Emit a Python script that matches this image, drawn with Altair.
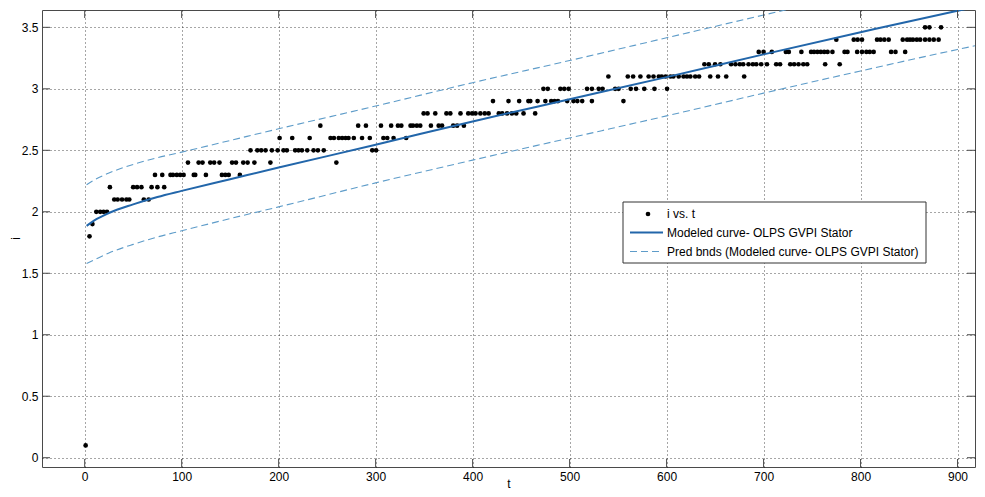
import altair as alt
import pandas as pd

# ---------------- data ----------------
t_ticks = [0, 100, 200, 300, 400, 500, 600, 700, 800, 900]
i_ticks = [0, 0.5, 1, 1.5, 2, 2.5, 3, 3.5]

# observed points, grouped by current level i
lvl_0_1 = [1]
lvl_1_8 = [5]
lvl_1_9 = [8]
lvl_2_0 = [12, 16, 19.5, 23]
lvl_2_1 = [30.5, 34, 38.5, 43, 46, 61, 66]
lvl_2_2 = [26, 50, 54, 58.5, 69, 75, 82]
lvl_2_3 = [72.5, 80, 88.5, 91, 95, 98.5, 102, 112.5, 114, 125, 141.5, 145, 148.5, 160]
lvl_2_4 = [106.5, 117.5, 121.5, 129.5, 133.5, 139, 152, 156, 163.5, 168, 175, 191.5, 259.5]
lvl_2_5 = [171, 178, 182, 186.5, 193, 199, 205, 208.5, 217, 220.5, 224, 229.5, 236,
           240.5, 246.5, 296.5, 300.5]
lvl_2_6 = [201, 214, 232, 253.5, 257, 262, 265.5, 269, 272, 277.5, 286, 294, 308, 312,
           318.5, 331.5]
lvl_2_7 = [243, 282, 290, 305.5, 316, 323, 326.5, 336, 338.5, 342.5, 346, 357, 365,
           368.5, 380, 384, 391]
lvl_2_8 = [349.5, 353.5, 361.5, 373, 377, 387.5, 395.5, 399.5, 403, 408, 412.5, 416.5,
           427, 430.5, 435.5, 440.5, 445, 452.5, 464.5]
lvl_2_9 = [421, 437, 448, 457.5, 459.5, 467, 475, 481, 484.5, 488, 497.5, 504, 508, 513,
           523, 555.5]
lvl_3_0 = [473, 477.5, 490.5, 494.5, 499, 518, 523, 530, 534, 547, 550.5, 563, 568.5,
           577, 587.5, 600.5]
lvl_3_1 = [540, 560, 565.5, 573, 581.5, 586.5, 592, 595, 599, 604, 607, 612.5, 617.5,
           621, 624.5, 629.5, 633.5, 645, 653, 661.5, 680]
lvl_3_2 = [639, 643.5, 650, 655.5, 666.5, 671, 675.5, 679, 684.5, 689, 692.5, 697.5,
           703.5, 713, 717, 727.5, 731.5, 736, 741, 745, 763.5, 778.5]
lvl_3_3 = [695, 700, 708.5, 723, 726, 739, 749, 752, 755.5, 759, 762.5, 766, 771, 783.5,
           786.5, 796.5, 801.5, 806, 809.5, 813.5, 831.5, 836, 846]
lvl_3_4 = [775, 793, 797, 801.5, 817, 820.5, 824.5, 829, 843.5, 848, 851, 854, 858,
           861.5, 866.5, 871, 875.5, 880.5]
lvl_3_5 = [866.5, 871, 883]

levels = [
    (0.1, lvl_0_1), (1.8, lvl_1_8), (1.9, lvl_1_9), (2.0, lvl_2_0), (2.1, lvl_2_1),
    (2.2, lvl_2_2), (2.3, lvl_2_3), (2.4, lvl_2_4), (2.5, lvl_2_5), (2.6, lvl_2_6),
    (2.7, lvl_2_7), (2.8, lvl_2_8), (2.9, lvl_2_9), (3.0, lvl_3_0), (3.1, lvl_3_1),
    (3.2, lvl_3_2), (3.3, lvl_3_3), (3.4, lvl_3_4), (3.5, lvl_3_5),
]

# modeled curve and prediction bounds
fit_t = [2, 10, 25, 50, 75, 100, 150, 200, 300, 400, 500, 600, 700, 800, 900, 918]
fit_i = [1.885, 1.93, 1.99, 2.06, 2.12, 2.17, 2.265, 2.36, 2.545, 2.735, 2.915, 3.095,
         3.28, 3.46, 3.635, 3.665]
upper_t = [2, 10, 25, 50, 75, 100, 150, 200, 300, 400, 500, 600, 700, 760]
upper_i = [2.22, 2.26, 2.315, 2.385, 2.44, 2.485, 2.58, 2.675, 2.86, 3.05, 3.23, 3.415,
           3.60, 3.71]
lower_t = [2, 10, 25, 50, 75, 100, 150, 200, 300, 400, 500, 600, 700, 800, 900, 918]
lower_i = [1.58, 1.61, 1.665, 1.735, 1.795, 1.845, 1.945, 2.04, 2.235, 2.42, 2.60, 2.78,
           2.965, 3.145, 3.32, 3.35]

legend_labels = ["i vs. t", "Modeled curve- OLPS GVPI Stator",
                 "Pred bnds (Modeled curve- OLPS GVPI Stator)"]

# ---------------- tables ----------------
pts = pd.DataFrame([{"t": t, "i": lv} for lv, ts in levels for t in ts])
fit_df = pd.DataFrame({"t": fit_t, "i": fit_i})
up_df = pd.DataFrame({"t": upper_t, "i": upper_i})
lo_df = pd.DataFrame({"t": lower_t, "i": lower_i})
xt_df = pd.DataFrame({"t": t_ticks})
yt_df = pd.DataFrame({"i": i_ticks})

# ---------------- styling ----------------
W, H = 933, 457
FONT = "Liberation Sans, Arial, sans-serif"
FRAME = "#4a4a4a"
SOLID = "#2266aa"
DASHC = "#5e9cc9"
TL = 8  # inward tick length

xs = alt.Scale(domain=[-44, 918], nice=False, zero=False)
ys = alt.Scale(domain=[-0.0756, 3.641], nice=False, zero=False)

xaxis = alt.Axis(values=t_ticks, format="d", title="t", grid=True, gridColor="#000",
                 gridDash=[1, 3], gridOpacity=0.7, domain=False, ticks=False, tickSize=0,
                 labelPadding=4, labelFont=FONT, labelFontSize=12, labelColor="#000",
                 titleFont=FONT, titleFontSize=12, titleFontWeight="normal",
                 titleColor="#000", titleBaseline="alphabetic", titleY=20)
yaxis = alt.Axis(values=i_ticks, format="~g", title="i", grid=True, gridColor="#000",
                 gridDash=[1, 3], gridOpacity=0.7, domain=False, ticks=False, tickSize=0,
                 labelPadding=4, labelFont=FONT, labelFontSize=12, labelColor="#000",
                 titleFont=FONT, titleFontSize=12, titleFontWeight="normal",
                 titleColor="#000", titleBaseline="middle", titleX=-27, titleY=228)


def X():
    return alt.X("t:Q", scale=xs, axis=xaxis)


def Y():
    return alt.Y("i:Q", scale=ys, axis=yaxis)


points = alt.Chart(pts).mark_circle(size=22, color="#000", opacity=1).encode(x=X(), y=Y())

fit_line = alt.Chart(fit_df).mark_line(color=SOLID, strokeWidth=2, clip=True,
                                       interpolate="monotone").encode(x=X(), y=Y())
up_line = alt.Chart(up_df).mark_line(color=DASHC, strokeWidth=1.1, strokeDash=[7, 4],
                                     clip=True, interpolate="monotone").encode(x=X(), y=Y())
lo_line = alt.Chart(lo_df).mark_line(color=DASHC, strokeWidth=1.1, strokeDash=[7, 4],
                                     clip=True, interpolate="monotone").encode(x=X(), y=Y())

# inward ticks on all four sides
tick_b = alt.Chart(xt_df).mark_rule(color=FRAME).encode(x=X(), y=alt.value(H), y2=alt.value(H - TL))
tick_t = alt.Chart(xt_df).mark_rule(color=FRAME).encode(x=X(), y=alt.value(0), y2=alt.value(TL))
tick_l = alt.Chart(yt_df).mark_rule(color=FRAME).encode(y=Y(), x=alt.value(0), x2=alt.value(TL))
tick_r = alt.Chart(yt_df).mark_rule(color=FRAME).encode(y=Y(), x=alt.value(W), x2=alt.value(W - TL))

# legend (drawn in plot pixel space)
one = pd.DataFrame({"k": [0]})
LX0, LX1, LY0, LY1 = 581, 884, 192, 253
rows_y = [204, 222.5, 241.5]
leg_box = alt.Chart(one).mark_rect(fill="white", stroke="#333", strokeWidth=1).encode(
    x=alt.value(LX0), x2=alt.value(LX1), y=alt.value(LY0), y2=alt.value(LY1))
leg_pt = alt.Chart(one).mark_circle(size=22, color="#000", opacity=1).encode(
    x=alt.value(606), y=alt.value(rows_y[0]))
leg_solid = alt.Chart(one).mark_rule(color=SOLID, strokeWidth=2).encode(
    x=alt.value(588), x2=alt.value(621), y=alt.value(rows_y[1]))
leg_dash = alt.Chart(one).mark_rule(color=DASHC, strokeWidth=1.1, strokeDash=[7, 4]).encode(
    x=alt.value(588), x2=alt.value(621), y=alt.value(rows_y[2]))
leg_texts = [
    alt.Chart(pd.DataFrame({"label": [lab]})).mark_text(
        align="left", baseline="middle", font=FONT, fontSize=12, color="#000").encode(
        x=alt.value(625), y=alt.value(yy), text="label:N")
    for lab, yy in zip(legend_labels, rows_y)
]

chart = alt.layer(
    lo_line, up_line, points, fit_line, tick_b, tick_t, tick_l, tick_r,
    leg_box, leg_pt, leg_solid, leg_dash, *leg_texts
).properties(
    width=W, height=H,
    autosize=alt.AutoSizeParams(type="none"),
    padding={"left": 34, "top": 2, "right": 2, "bottom": 22},
    background="white",
).configure_view(stroke=FRAME, strokeWidth=1)

chart.save("out.html", embed_options={"renderer": "svg", "actions": False})
